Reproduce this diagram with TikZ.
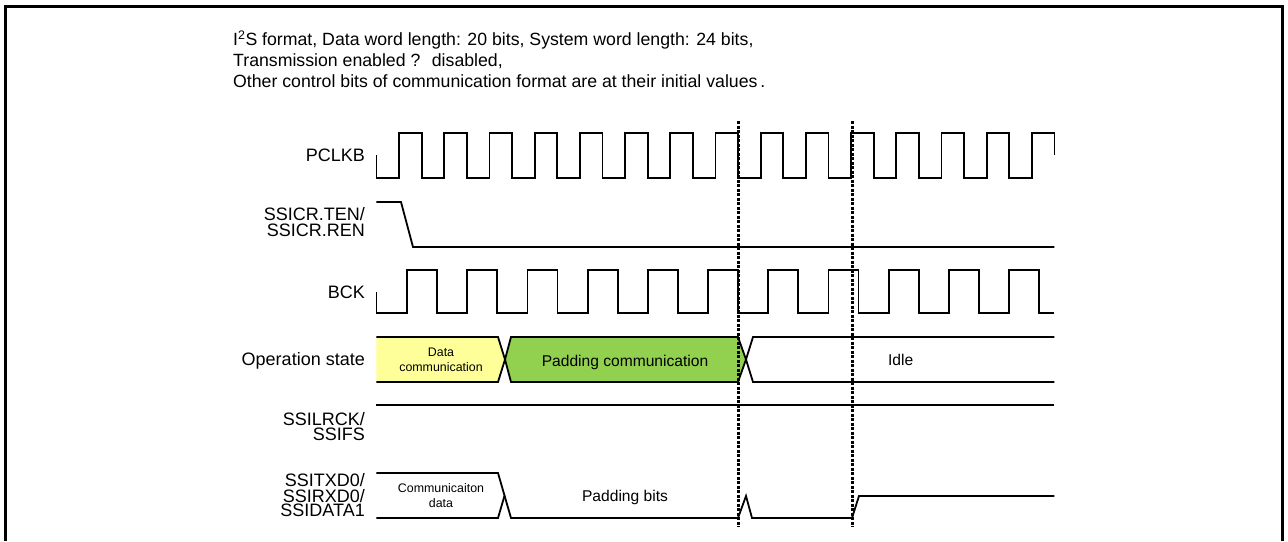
\documentclass[tikz,border=0pt]{standalone}
\usepackage{fontspec}
\setmainfont{Liberation Sans}
\definecolor{padyellow}{HTML}{FFFF99}
\definecolor{padgreen}{HTML}{92D050}
\begin{document}
\begin{tikzpicture}[x=1pt,y=-1pt]
\tikzset{
  sig/.style={line width=1.8pt, line join=miter, line cap=butt},
  lab/.style={anchor=base east, inner sep=0pt, font=\fontsize{18}{18}\selectfont},
  ttl/.style={anchor=base west, inner sep=0pt, font=\fontsize{17.7}{18}\selectfont},
  midtxt/.style={anchor=base, inner sep=0pt, font=\fontsize{15.6}{16}\selectfont},
  smltxt/.style={anchor=base, inner sep=0pt, font=\fontsize{12.4}{13}\selectfont},
  guide/.style={line width=3pt, dash pattern=on 3pt off 1.5pt},
  framestyle/.style={line width=3pt}
}
\useasboundingbox (0,0) rectangle (1288,541);
% frame
\draw[framestyle] (5.5,541) -- (5.5,6.5) -- (1282.5,6.5) -- (1282.5,541);
% title
\node[ttl] (t1) at (233,45.5) {I\textsuperscript{2}S format, Data word length: 20 bits, System word length: 24 bits,};
\node[ttl] (t2) at (233,66.5) {Transmission enabled ?~ disabled,};
\node[ttl] (t3) at (233,87.5) {Other control bits of communication format are at their initial values\,.};
% labels
\node[lab] (lpclk) at (365,161.5) {PCLKB};
\node[lab] (lten1) at (365,220) {SSICR.TEN/};
\node[lab] (lten2) at (365,236.7) {SSICR.REN};
\node[lab] (lbck) at (365,298.5) {BCK};
\node[lab] (lop) at (365,365) {Operation state};
\node[lab] (llr1) at (365,425) {SSILRCK/};
\node[lab] (llr2) at (365,440.7) {SSIFS};
\node[lab] (ltx1) at (365,486.7) {SSITXD0/};
\node[lab] (ltx2) at (365,502.7) {SSIRXD0/};
\node[lab] (ltx3) at (365,516.7) {SSIDATA1};
% PCLKB
\draw[sig] (376.4,155) -- (376.4,178)
  \foreach \k in {0,...,13}{ -- ({399+45.2*\k},178) -- ({399+45.2*\k},133) -- ({421.6+45.2*\k},133) -- ({421.6+45.2*\k},178) }
  -- (1031.8,178) -- (1031.8,133) -- (1054.4,133) -- (1054.4,155);
% SSICR.TEN
\draw[sig] (376.4,202) -- (401,202) -- (413,247) -- (1054.4,247);
% BCK
\draw[sig] (376.4,292) -- (376.4,313)
  \foreach \k in {0,...,10}{ -- ({407+60.2*\k},313) -- ({407+60.2*\k},270) -- ({437.1+60.2*\k},270) -- ({437.1+60.2*\k},313) }
  -- (1054.4,313);
% Operation state
\fill[padyellow] (376.4,337) -- (498,337) -- (505,359.5) -- (498,382) -- (376.4,382) -- cycle;
\draw[sig] (376.4,337) -- (498,337) -- (505,359.5) -- (498,382) -- (376.4,382);
\draw[sig, fill=padgreen] (511,337) -- (738,337) -- (746,359.5) -- (738,382) -- (511,382) -- (505,359.5) -- cycle;
\draw[sig] (1054.4,337) -- (753,337) -- (746,359.5) -- (753,382) -- (1054.4,382);
\node[smltxt] (od1) at (441,356.7) {Data};
\node[smltxt] (od2) at (441,371.7) {communication};
\node[midtxt] (opad) at (625,366) {Padding communication};
\node[midtxt] (oidle) at (900.7,365) {Idle};
% SSILRCK
\draw[sig] (376.4,405) -- (1054.4,405);
% SSITXD
\draw[sig] (376.4,473) -- (498,473) -- (511,518) -- (738,518) -- (746,496) -- (752,518) -- (852,518) -- (859,496) -- (1054.4,496);
\draw[sig] (376.4,518) -- (498,518) -- (504.6,495.5);
\node[smltxt] (dd1) at (441,492.3) {Communicaiton};
\node[smltxt] (dd2) at (441,507.7) {data};
\node[midtxt] (dpad) at (625,501.7) {Padding bits};
% guides
\coordinate (g1t) at (738,121);
\coordinate (g1b) at (738,527);
\coordinate (g2t) at (852,121);
\coordinate (g2b) at (852,527);
\draw[guide] (g1t) -- (g1b);
\draw[guide] (g2t) -- (g2b);
\end{tikzpicture}
\end{document}
